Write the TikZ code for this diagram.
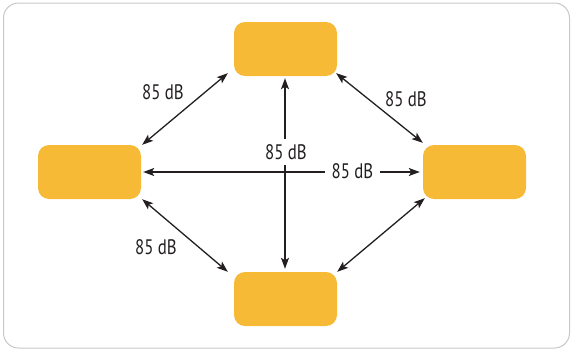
\documentclass[tikz,border=0pt]{standalone}
\usepackage{fontspec}
\setmainfont[FakeStretch=0.8]{PT Sans}
\usetikzlibrary{arrows.meta,calc}
\definecolor{boxorange}{HTML}{F6BA37}
\definecolor{txt}{HTML}{231F20}
\definecolor{frame}{HTML}{C8C8C8}
\begin{document}
\begin{tikzpicture}[x=1pt,y=-1pt,
  boxnode/.style={fill=boxorange,draw=none,rounded corners=11pt,minimum width=103pt,minimum height=54pt,inner sep=0pt},
  link/.style={draw=txt,line width=1.3pt,{Stealth[length=11pt,width=8pt,inset=2.5pt]}-{Stealth[length=11pt,width=8pt,inset=2.5pt]}},
  lbl/.style={text=txt,font=\fontsize{21}{22}\selectfont,inner sep=1.5pt}]
\useasboundingbox (0,0) rectangle (571,351);
\draw[frame,line width=1pt,rounded corners=15pt] (3.5,3) rectangle (569.5,348);
\node[boxnode] (T) at (285.5,49) {};
\node[boxnode] (L) at (89.5,172) {};
\node[boxnode] (R) at (474.5,172) {};
\node[boxnode] (B) at (285.5,299) {};
\draw[link] ($(L.north east)+(1,0)$) -- ($(T.south west)+(-6,-3)$);
\draw[link] ($(T.south east)+(-1,-3)$) -- ($(R.north west)+(0,-2)$);
\draw[link] ($(L.south east)+(1,0)$) -- ($(B.north west)+(-6,0)$);
\draw[link] ($(R.south west)+(2,-1)$) -- ($(B.north east)+(0,0)$);
\draw[link] ($(L.east)+(2,0)$) -- ($(R.west)+(-3,0)$);
\draw[link] ($(T.south)+(-0.5,2)$) -- ($(B.north)+(-0.5,-3)$);
\node[lbl,fill=white,inner xsep=2pt,inner ysep=5pt] (v) at (286,152) {85 dB};
\node[lbl,fill=white,inner xsep=7pt] (h) at (352.5,171) {85 dB};
\node[lbl] (tl) at (163,92) {85 dB};
\node[lbl] (tr) at (406,99) {85 dB};
\node[lbl] (bl) at (156,247) {85 dB};
\end{tikzpicture}
\end{document}
